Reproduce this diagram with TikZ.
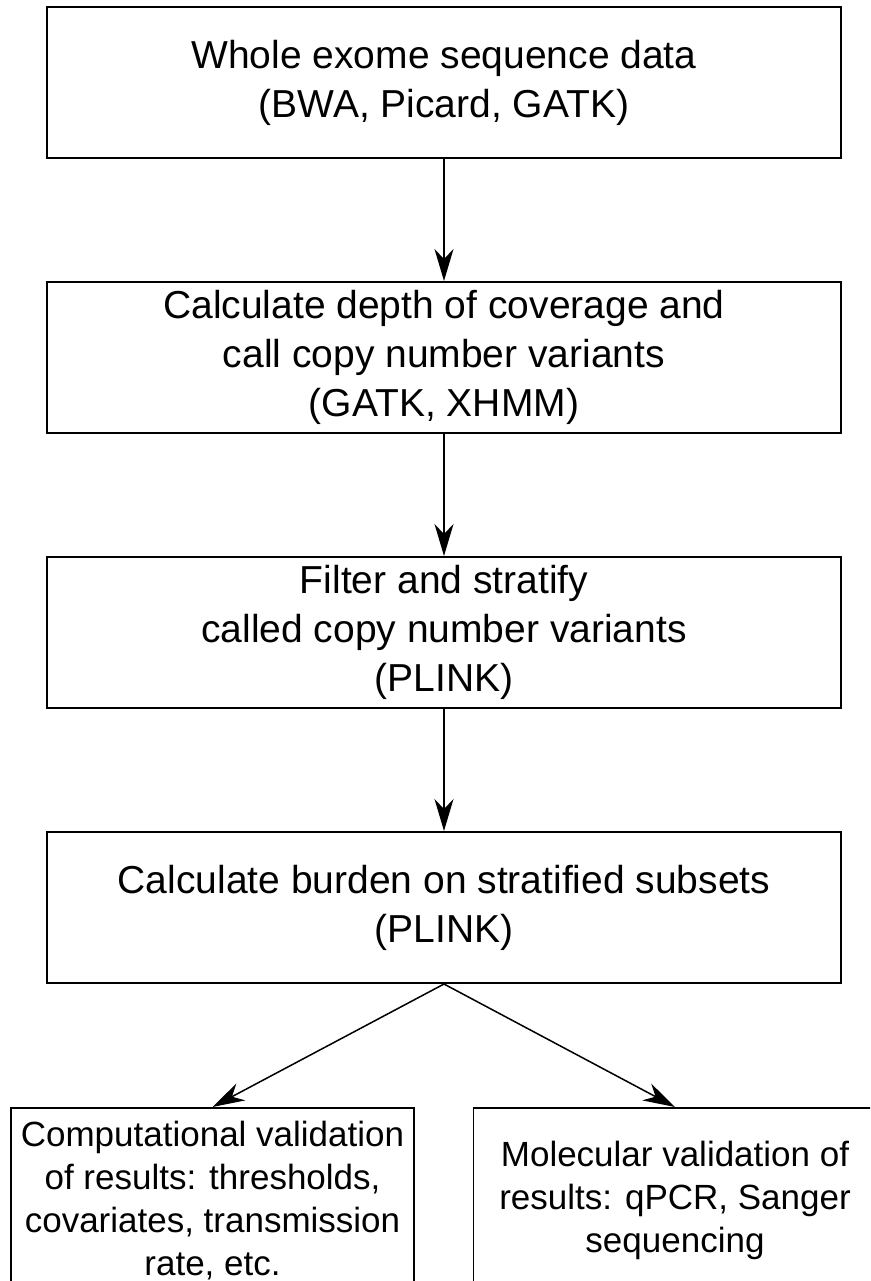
\documentclass[tikz,border=0pt]{standalone}
\usepackage{fontspec}
\setmainfont{Liberation Sans}
\usetikzlibrary{arrows.meta}
\begin{document}
\begin{tikzpicture}[x=1pt,y=-1pt,
  mainbox/.style={draw, line width=2pt, minimum width=794pt, minimum height=151pt, align=center, font=\fontsize{39}{49}\selectfont, inner sep=0pt},
  subbox/.style={draw, line width=1.8pt, minimum width=403pt, minimum height=186pt, align=center, font=\fontsize{35}{43}\selectfont, inner sep=0pt, anchor=north},
  flow/.style={line width=1.5pt, -{Stealth[length=32pt,width=19pt,inset=10pt]}}]
\useasboundingbox (0,0) rectangle (870,1281);
\clip (0,0) rectangle (870,1281);
\node[mainbox] (wes) at (444,82.5) {Whole exome sequence data\\(BWA, Picard, GATK)};
\node[mainbox] (depth) at (444,357.5) {Calculate depth of coverage and\\call copy number variants\\(GATK, XHMM)};
\node[mainbox] (filter) at (444,632.5) {Filter and stratify\\called copy number variants\\(PLINK)};
\node[mainbox] (burden) at (444,907.5) {Calculate burden on stratified subsets\\(PLINK)};
\node[subbox] (comp) at (212.5,1107) {Computational validation\\of results: thresholds,\\covariates, transmission\\rate, etc.};
\node[subbox] (mol) at (675,1107) {Molecular validation of\\results: qPCR, Sanger\\sequencing};
\draw[flow] (wes) -- (depth);
\draw[flow] (depth) -- (filter);
\draw[flow] (filter) -- (burden);
\draw[flow] (burden.south) -- (comp.north);
\draw[flow] (burden.south) -- (mol.north);
\end{tikzpicture}
\end{document}
